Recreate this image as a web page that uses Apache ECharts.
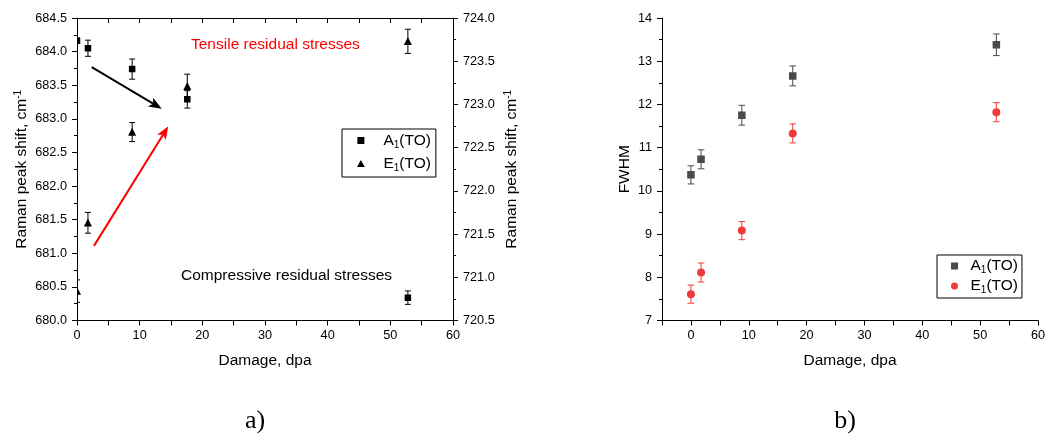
<!DOCTYPE html>
<html>
<head>
<meta charset="utf-8">
<script src="https://cdn.jsdelivr.net/npm/echarts@6/dist/echarts.min.js"></script>
<style>
  html, body { margin: 0; padding: 0; background: #fff; }
  #chart { width: 1045px; height: 438px; }
</style>
</head>
<body>
<div id="chart"></div>
<script>
// damage levels, dpa (same for both panels)
const damage = [0, 1.75, 8.8, 17.6, 52.8];

// a) Raman peak shift, cm-1 (A1 on left axis, E1 on right axis)
const shiftA1 = [684.16, 684.05, 683.74, 683.29, 680.34];
const shiftA1Err = [0.04, 0.12, 0.15, 0.13, 0.10];
const shiftE1 = [720.84, 721.63, 722.68, 723.21, 723.73];
const shiftE1Err = [0.13, 0.12, 0.11, 0.14, 0.14];

// b) FWHM
const fwhmA1 = [10.37, 10.73, 11.75, 12.66, 13.38];
const fwhmA1Err = [0.21, 0.22, 0.23, 0.23, 0.25];
const fwhmE1 = [7.61, 8.11, 9.08, 11.33, 11.82];
const fwhmE1Err = [0.21, 0.22, 0.21, 0.22, 0.22];

// arrows in a): [x tail, y tail, x tip, y tip] in left-axis units
const arrows = [[2.35, 683.77, 13.52, 683.15], [2.71, 681.11, 14.57, 682.89]];
const arrowColors = ['#000000', '#ff0000'];

const legendNames = {
  'a-A1': 'A{sub|1}(TO)', 'a-E1': 'E{sub|1}(TO)',
  'b-A1': 'A{sub|1}(TO)', 'b-E1': 'E{sub|1}(TO)'
};

// legend icons as paths so they keep their aspect
const ICON_SQUARE = 'path://M0,0L10,0L10,10L0,10Z';
const ICON_TRIANGLE = 'path://M5,0L10,9L0,9Z';
const ICON_CIRCLE = 'path://M5,0A5,5,0,1,1,4.99,0Z';

const FONT = '"Liberation Sans", Arial, sans-serif';
const black = '#000';

function marker(symbol, c, s, color) {
  if (symbol === 'square') {
    return { type: 'rect', shape: { x: c[0] - s / 2, y: c[1] - s / 2, width: s, height: s }, style: { fill: color } };
  }
  if (symbol === 'triangle') {
    return {
      type: 'polygon',
      shape: { points: [[c[0], c[1] - s * 0.55], [c[0] - s / 2, c[1] + s * 0.45], [c[0] + s / 2, c[1] + s * 0.45]] },
      style: { fill: color }
    };
  }
  return { type: 'circle', shape: { cx: c[0], cy: c[1], r: s / 2 }, style: { fill: color } };
}

// scatter points with vertical error bars
function pointSeries(name, xAxisIndex, yAxisIndex, ys, errs, color, symbol, size, cap) {
  return {
    name: name,
    type: 'custom',
    xAxisIndex: xAxisIndex,
    yAxisIndex: yAxisIndex,
    clip: true,
    itemStyle: { color: color },
    data: damage.map((x, i) => [x, ys[i], errs[i]]),
    renderItem: function (params, api) {
      const x = api.value(0), y = api.value(1), e = api.value(2);
      const c = api.coord([x, y]);
      const lo = api.coord([x, y - e]);
      const hi = api.coord([x, y + e]);
      const ls = { stroke: color, lineWidth: 1 };
      return {
        type: 'group',
        children: [
          { type: 'line', shape: { x1: c[0], y1: lo[1], x2: c[0], y2: hi[1] }, style: ls },
          { type: 'line', shape: { x1: c[0] - cap, y1: lo[1], x2: c[0] + cap, y2: lo[1] }, style: ls },
          { type: 'line', shape: { x1: c[0] - cap, y1: hi[1], x2: c[0] + cap, y2: hi[1] }, style: ls },
          marker(symbol, c, size, color)
        ]
      };
    }
  };
}

const arrowSeries = {
  name: 'arrows',
  type: 'custom',
  xAxisIndex: 0,
  yAxisIndex: 0,
  silent: true,
  data: arrows,
  renderItem: function (params, api) {
    const p1 = api.coord([api.value(0), api.value(1)]);
    const p2 = api.coord([api.value(2), api.value(3)]);
    const color = arrowColors[params.dataIndex];
    const dx = p2[0] - p1[0], dy = p2[1] - p1[1];
    const len = Math.sqrt(dx * dx + dy * dy);
    const ux = dx / len, uy = dy / len;
    const headLen = 13, headW = 5;
    const bx = p2[0] - ux * headLen, by = p2[1] - uy * headLen;
    return {
      type: 'group',
      children: [
        { type: 'line', shape: { x1: p1[0], y1: p1[1], x2: bx + ux * 3, y2: by + uy * 3 }, style: { stroke: color, lineWidth: 2 } },
        {
          type: 'polygon',
          shape: { points: [[p2[0], p2[1]], [bx - uy * headW, by + ux * headW], [bx + ux * 3, by + uy * 3], [bx + uy * headW, by - ux * headW]] },
          style: { fill: color }
        }
      ]
    };
  }
};

const labelStyle = { color: black, fontSize: 12.7, fontFamily: FONT };
const nameStyle = {
  color: black, fontSize: 15.5, fontFamily: FONT, lineHeight: 18,
  rich: { sup: { fontSize: 10, fontFamily: FONT, verticalAlign: 'top', lineHeight: 10 } }
};
const lineStyle = { color: black, width: 1 };

function valueAxis(extra) {
  return Object.assign({
    type: 'value',
    axisLine: { show: true, onZero: false, lineStyle: lineStyle },
    axisTick: { show: true, length: 5, lineStyle: lineStyle },
    minorTick: { show: true, splitNumber: 2, length: 3, lineStyle: lineStyle },
    splitLine: { show: false },
    axisLabel: Object.assign({ margin: 9 }, labelStyle),
    nameTextStyle: nameStyle,
    nameLocation: 'middle'
  }, extra);
}

const legendText = function (rowHeight) {
  return {
    color: black, fontSize: 15.5, fontFamily: FONT, lineHeight: rowHeight,
    rich: { sub: { fontSize: 10, fontFamily: FONT, verticalAlign: 'bottom', lineHeight: 10 } }
  };
};

const chart = echarts.init(document.getElementById('chart'));

chart.setOption({
  animation: false,
  backgroundColor: '#fff',
  grid: [
    { left: 77, top: 18, width: 376, height: 302.5, containLabel: false, outerBoundsMode: 'none' },
    { left: 662, top: 18, width: 376, height: 302.5, containLabel: false, outerBoundsMode: 'none' }
  ],
  xAxis: [
    valueAxis({
      gridIndex: 0, position: 'bottom', min: 0, max: 60, interval: 10,
      minorTick: { show: true, splitNumber: 2, length: 5, lineStyle: lineStyle },
      axisLabel: Object.assign({ margin: 8 }, labelStyle),
      name: 'Damage, dpa', nameGap: 31
    }),
    valueAxis({
      gridIndex: 0, position: 'top', min: 0, max: 60, interval: 10,
      axisTick: { show: true, inside: true, length: 5, lineStyle: lineStyle },
      minorTick: { show: true, splitNumber: 2, length: 5, lineStyle: lineStyle },
      axisLabel: { show: false }
    }),
    valueAxis({
      gridIndex: 1, position: 'bottom', min: -5, max: 60, interval: 5,
      minorTick: { show: false },
      axisLabel: Object.assign({ margin: 8, formatter: v => (v % 10 === 0 ? String(v) : '') }, labelStyle),
      name: 'Damage, dpa', nameGap: 31
    })
  ],
  yAxis: [
    valueAxis({
      gridIndex: 0, position: 'left', min: 680, max: 684.5, interval: 0.5,
      axisLabel: Object.assign({ margin: 10, formatter: v => v.toFixed(1) }, labelStyle),
      name: 'Raman peak shift, cm{sup|-1}', nameRotate: 90, nameGap: 46
    }),
    valueAxis({
      gridIndex: 0, position: 'right', min: 720.5, max: 724, interval: 0.5,
      axisLabel: Object.assign({ margin: 10, formatter: v => v.toFixed(1) }, labelStyle),
      name: 'Raman peak shift, cm{sup|-1}', nameRotate: 90, nameGap: 50
    }),
    valueAxis({
      gridIndex: 1, position: 'left', min: 7, max: 14, interval: 1,
      axisLabel: Object.assign({ margin: 10 }, labelStyle),
      name: 'FWHM', nameRotate: 90, nameGap: 26
    })
  ],
  legend: [
    {
      left: 342, top: 129, orient: 'vertical',
      data: [{ name: 'a-A1', icon: ICON_SQUARE }, { name: 'a-E1', icon: ICON_TRIANGLE }],
      formatter: n => legendNames[n],
      itemWidth: 35, itemHeight: 7, itemGap: 4,
      symbolKeepAspect: true,
      padding: [2, 5, 4, 15],
      borderColor: black, borderWidth: 1, borderRadius: 0,
      selectedMode: false,
      textStyle: legendText(19)
    },
    {
      left: 937, top: 255, orient: 'vertical',
      data: [{ name: 'b-A1', icon: ICON_SQUARE }, { name: 'b-E1', icon: ICON_CIRCLE }],
      formatter: n => legendNames[n],
      itemWidth: 22, itemHeight: 7, itemGap: 2,
      symbolKeepAspect: true,
      padding: [2, 4, 3, 14],
      borderColor: black, borderWidth: 1, borderRadius: 0,
      selectedMode: false,
      textStyle: legendText(18)
    }
  ],
  graphic: [
    { type: 'text', x: 191, y: 45, style: { text: 'Tensile residual stresses', fill: '#ff0000', fontSize: 15.5, fontFamily: FONT, verticalAlign: 'middle' } },
    { type: 'text', x: 181, y: 275.5, style: { text: 'Compressive residual stresses', fill: black, fontSize: 15.5, fontFamily: FONT, verticalAlign: 'middle' } },
    { type: 'text', x: 255, y: 421, style: { text: 'a)', fill: black, fontSize: 26, fontFamily: '"Liberation Serif", "Times New Roman", serif', align: 'center', verticalAlign: 'middle' } },
    { type: 'text', x: 845, y: 421, style: { text: 'b)', fill: black, fontSize: 26, fontFamily: '"Liberation Serif", "Times New Roman", serif', align: 'center', verticalAlign: 'middle' } }
  ],
  series: [
    pointSeries('a-A1', 0, 0, shiftA1, shiftA1Err, '#000000', 'square', 6.5, 3),
    pointSeries('a-E1', 0, 1, shiftE1, shiftE1Err, '#000000', 'triangle', 8, 3),
    arrowSeries,
    pointSeries('b-A1', 2, 2, fwhmA1, fwhmA1Err, '#4a4a4a', 'square', 7.5, 3.3),
    pointSeries('b-E1', 2, 2, fwhmE1, fwhmE1Err, '#ef3b3b', 'circle', 8, 3.3)
  ]
});
</script>
</body>
</html>
